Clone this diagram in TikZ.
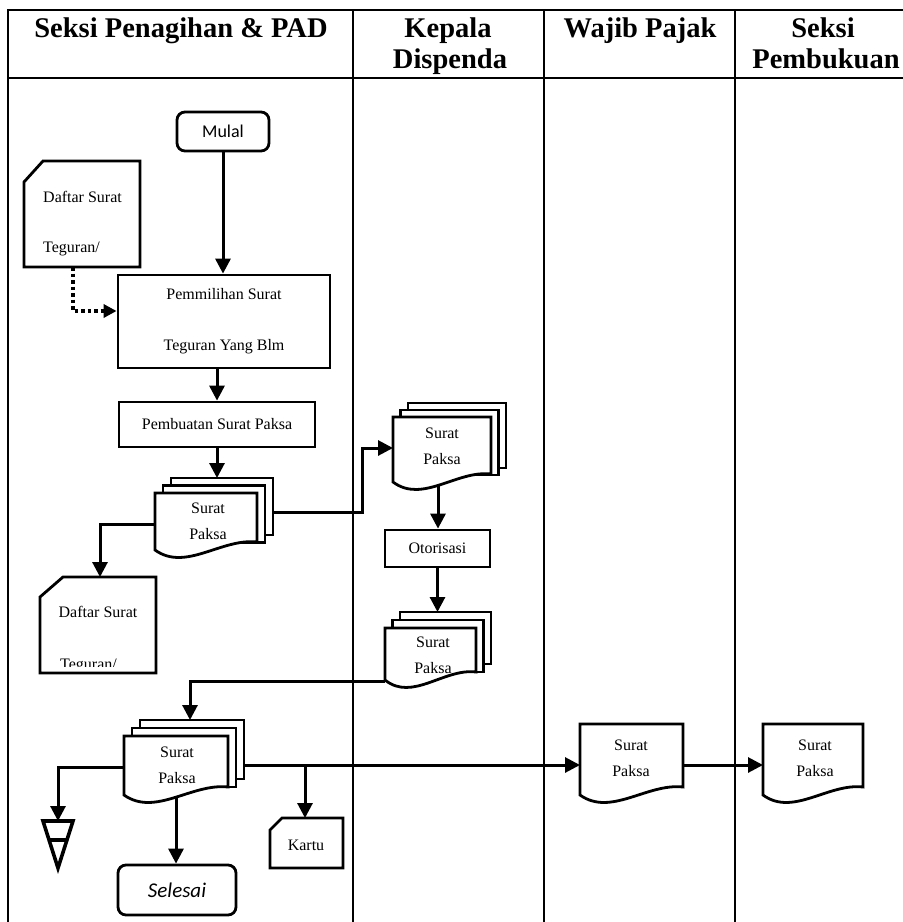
\documentclass[tikz,border=0pt]{standalone}
\usepackage{fontspec}
\setmainfont{Liberation Serif}
\newfontfamily\carl{Carlito}
\usetikzlibrary{arrows.meta,calc}
\tikzset{
  shp/.style={line width=2.8pt, line join=miter},
  frameline/.style={line width=2pt},
  arr/.style={line width=3pt, -{Triangle[length=15pt,width=15pt]}},
  dotarr/.style={line width=3.5pt, dash pattern=on 3.5pt off 3pt, -{Triangle[length=13pt,width=13pt]}},
  box/.style={shp, draw, fill=white, rectangle, inner sep=0pt, font=\fontsize{16}{18}\selectfont, align=center},
  term/.style={shp, draw, fill=white, rounded corners=8pt, inner sep=0pt},
  txt/.style={font=\fontsize{16}{18}\selectfont, align=center, inner sep=0pt},
  head/.style={font=\fontsize{28.5}{31}\selectfont\bfseries, inner sep=0pt, anchor=base},
}
\newcommand\docfront[4]{%
  \filldraw[shp,fill=white] (#3,{#4-8}) -- (#3,#2) -- (#1,#2) -- (#1,#4)
    .. controls ({#1+0.3*(#3-#1)},{#4+22}) and ({#1+0.65*(#3-#1)},{#4-12}) .. (#3,{#4-8}) -- cycle;}
\newcommand\docstack[6]{%
  \filldraw[shp,fill=white] ({#1+2*#5},{#2-2*#6}) rectangle ({#3+2*#5},{#4-2*#6});
  \filldraw[shp,fill=white] ({#1+#5},{#2-#6}) rectangle ({#3+#5},{#4-#6});
  \docfront{#1}{#2}{#3}{#4}}
\newcommand\cardshape[6]{%
  \filldraw[shp,fill=white] (#1,{#2+#6}) -- ({#1+#5},#2) -- (#3,#2) -- (#3,#4) -- (#1,#4) -- cycle;}
\begin{document}
\begin{tikzpicture}[x=1pt,y=-1pt]
\useasboundingbox (0,0) rectangle (903,922);
\fill[white] (0,0) rectangle (903,922);
% frame
\draw[frameline] (8,922) -- (8,10) -- (903,10);
\draw[line width=2.4pt] (8,78) -- (903,78);
\draw[frameline] (353,10) -- (353,922);
\draw[frameline] (544,10) -- (544,922);
\draw[frameline] (735,10) -- (735,922);
% headers
\node[head] (h1) at (181,37) {Seksi Penagihan \& PAD};
\node[head] (h2a) at (448,37) {Kepala};
\node[head] (h2b) at (450,68) {Dispenda};
\node[head] (h3) at (640,37) {Wajib Pajak};
\node[head] (h4a) at (823,37) {Seksi};
\node[head] (h4b) at (826,68) {Pembukuan};

% lane 1 top
\node[term, minimum width=92pt, minimum height=39pt, font=\carl\fontsize{18}{20}\selectfont] (mulai) at (223,131.5) {Mulal};
\cardshape{24}{161}{140}{267}{19}{21}
\node[txt, align=left, anchor=west] (ds1) at (43,224) {Daftar Surat\\[32pt]Teguran/};
\coordinate (ds1b) at (73,267);
\node[box, minimum width=212pt, minimum height=93pt] (pm) at (224,321.5) {Pemmilihan Surat\\[33pt]Teguran Yang Blm};
\node[box, minimum width=196pt, minimum height=45pt] (pb) at (217,424.5) {Pembuatan Surat Paksa};

\draw[arr] (mulai.south) -- (mulai.south |- pm.north);
\draw[dotarr] (ds1b) |- ($(pm.west)+(0,-10.5)$);
\draw[arr] (pb.north |- pm.south) -- (pb.north);

% stack 1
\docstack{155}{493}{257}{550}{8}{7.5}
\node[txt] (sp1) at (208,521) {Surat\\[8pt]Paksa};
\coordinate (st1top) at (217,478);
\coordinate (sp1r) at (273,512);
\coordinate (sp1l) at (155,524);
\draw[arr] (pb.south) -- (st1top);

% daftar 2
\cardshape{40}{577}{156}{673}{23}{20}
\node[txt] (ds2a) at (98,612) {Daftar Surat};
\begin{scope}
\clip (42,640) rectangle (154,666);
\node[txt, anchor=base west] (ds2b) at (60,669) {Teguran/};
\end{scope}
\coordinate (ds2top) at (100,577);
\draw[arr] (sp1l) -| (ds2top);

% lane 2
\docstack{393}{417}{491}{482}{7.5}{7}
\node[txt] (sp2) at (442,446.5) {Surat\\[8pt]Paksa};
\coordinate (sp2l) at (393,448);
\coordinate (sp2b) at (438,485);
\draw[arr] (sp1r) -- (362,512) |- (sp2l);
\node[box, minimum width=105pt, minimum height=37pt] (ot) at (437.5,548.5) {Otorisasi};
\draw[arr] (sp2b) -- (sp2b |- ot.north);
\docstack{385}{628}{476}{680}{7.5}{8}
\node[txt] (sp3) at (433,655) {Surat\\[8pt]Paksa};
\coordinate (st3top) at (437.5,612);
\coordinate (sp3l) at (385,681);
\draw[arr] (ot.south) -- (st3top);

% stack 4
\docstack{124}{736}{228}{795}{8}{8}
\node[txt] (sp4) at (177,765) {Surat\\[8pt]Paksa};
\coordinate (st4top) at (190,720);
\coordinate (sp4l) at (124,767);
\coordinate (sp4r) at (244,765);
\coordinate (sp4b) at (176,798);
\draw[arr] (sp3l) -| (st4top);

% merge triangle
\coordinate (tri) at (58,821);
\draw[line width=3.6pt, line join=miter] (43,821) -- (73,821) -- (58,868) -- cycle;
\draw[line width=3.6pt] (49,840) -- (67,840);
\draw[arr] (sp4l) -| (tri);

% selesai
\node[term, minimum width=118pt, minimum height=50pt, font=\carl\itshape\fontsize{21}{23}\selectfont] (sl) at (177,890) {Selesai};
\draw[arr] (sp4b) -- (sp4b |- sl.north);

% kartu
\cardshape{270}{818}{343}{868}{12}{12}
\node[txt] (kartu) at (306,845) {Kartu};
\coordinate (kt) at (305,818);
\coordinate (kbr) at (305,765);

% lane 3 & 4
\docfront{580}{724}{683}{795}
\node[txt] (wp) at (631,758.5) {Surat\\[8pt]Paksa};
\coordinate (wpl) at (580,765);
\coordinate (wpr) at (683,765);
\docfront{763}{724}{863}{795}
\node[txt] (pbk) at (815,758.5) {Surat\\[8pt]Paksa};
\coordinate (pbkl) at (763,765);

\draw[arr] (sp4r) -- (wpl);
\draw[arr] (kbr) -- (kt);
\draw[arr] (wpr) -- (pbkl);
\end{tikzpicture}
\end{document}
